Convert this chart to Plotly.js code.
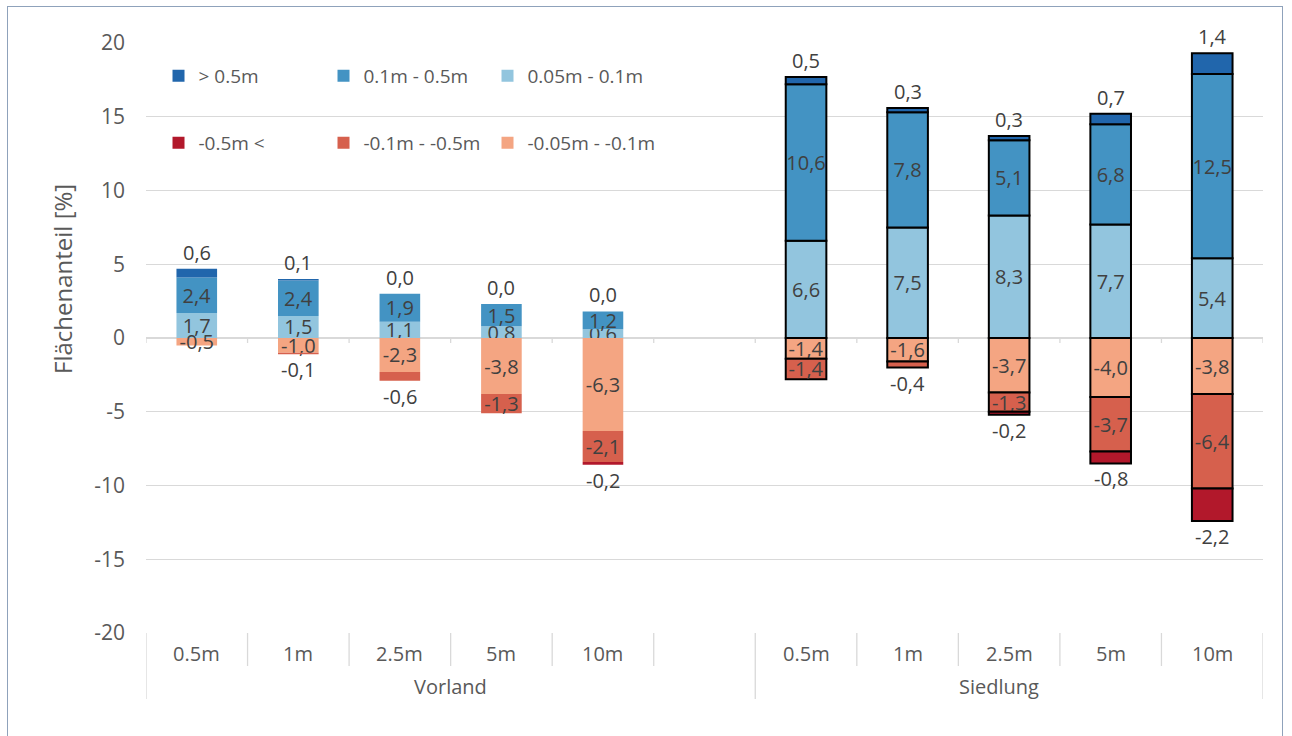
<!DOCTYPE html>
<html>
<head>
<meta charset="utf-8">
<script src="https://cdn.plot.ly/plotly-3.0.1.min.js"></script>
<style>
  html, body { margin: 0; padding: 0; background: #fff; }
  #wrap { position: relative; width: 1292px; height: 736px; overflow: hidden; }
  #chart { width: 1292px; height: 736px; }
  #frame { position: absolute; left: 7px; top: 6px; width: 1274px; height: 740px;
           border: 1.5px solid #8fa2bb; pointer-events: none; }
</style>
</head>
<body>
<div id="wrap"><div id="chart"></div><div id="frame"></div></div>
<script>
// ---- data ----
const groups      = ['Vorland','Vorland','Vorland','Vorland','Vorland','Vorland',
                     'Siedlung','Siedlung','Siedlung','Siedlung','Siedlung'];
const categories  = ['0.5m','1m','2.5m','5m','10m','','0.5m','1m','2.5m','5m','10m'];
const seriesNames = ['> 0.5m','0.1m - 0.5m','0.05m - 0.1m','-0.5m <','-0.1m - -0.5m','-0.05m - -0.1m'];
const yTickVals   = [20, 15, 10, 5, 0, -5, -10, -15, -20];

const gt05    = [0.6, 0.1, 0.0, 0.0, 0.0, null,  0.5, 0.3, 0.3, 0.7, 1.4];
const p01_05  = [2.4, 2.4, 1.9, 1.5, 1.2, null, 10.6, 7.8, 5.1, 6.8, 12.5];
const p005_01 = [1.7, 1.5, 1.1, 0.8, 0.6, null,  6.6, 7.5, 8.3, 7.7, 5.4];
const lt05    = [0.0, 0.0, 0.0, 0.0, -0.2, null, 0.0, 0.0, -0.2, -0.8, -2.2];
const n01_05  = [0.0, -0.1, -0.6, -1.3, -2.1, null, -1.4, -0.4, -1.3, -3.7, -6.4];
const n005_01 = [-0.5, -1.0, -2.3, -3.8, -6.3, null, -1.4, -1.6, -3.7, -4.0, -3.8];

const colors = ['#2166ac','#4393c3','#92c5de','#b2182b','#d6604d','#f4a582'];

// ---- helpers ----
const keys = categories.map((c, i) => groups[i] + ' ' + (c || '-') + ' ' + i);
const fmt = v => v.toFixed(1).replace('.', ',');
const yv = arr => arr.map(v => (v === null || v === 0) ? null : v);
const lineW = groups.map(g => g === 'Siedlung' ? 2 : 0);
const FONT = 'Open Sans, Noto Sans, sans-serif';
const LABEL = '#404040';
const TICK = '#595959';

// mid-red label goes below the bar when the outermost segment is empty and the value is small
const midBelow = n01_05.map((v, i) => v !== null && v !== 0 && (lt05[i] === 0) && Math.abs(v) < 1);

function bar(arr, name, color, legend, textArr) {
  return {
    type: 'bar', x: keys, y: yv(arr), name: name, legend: legend,
    marker: { color: color, line: { color: '#000000', width: lineW } },
    width: 0.4,
    text: textArr, textposition: 'inside', insidetextanchor: 'middle',
    textangle: 0, constraintext: 'none',
    textfont: { family: FONT, size: 20, color: LABEL },
    hoverinfo: 'skip'
  };
}
const txt = arr => arr.map(v => (v === null || v === 0) ? '' : fmt(v));

const traces = [
  bar(p005_01, seriesNames[2], colors[2], 'legend3', txt(p005_01)),
  bar(p01_05,  seriesNames[1], colors[1], 'legend2', txt(p01_05)),
  bar(gt05,    seriesNames[0], colors[0], 'legend',  gt05.map(() => '')),
  bar(n005_01, seriesNames[5], colors[5], 'legend6', txt(n005_01)),
  bar(n01_05,  seriesNames[4], colors[4], 'legend5', n01_05.map((v, i) => midBelow[i] ? '' : ((v === null || v === 0) ? '' : fmt(v)))),
  bar(lt05,    seriesNames[3], colors[3], 'legend4', lt05.map(() => ''))
];

// ---- annotations ----
const ann = [];
keys.forEach((k, i) => {
  if (gt05[i] === null) return;
  const top = p005_01[i] + p01_05[i] + gt05[i];
  ann.push({ x: k, y: top, xref: 'x', yref: 'y', text: fmt(gt05[i]), showarrow: false,
             yanchor: 'bottom', yshift: 1, font: { family: FONT, size: 20, color: LABEL } });
  const bottom = n005_01[i] + n01_05[i] + lt05[i];
  let lbl = null;
  if (lt05[i] !== 0) lbl = lt05[i];
  else if (midBelow[i]) lbl = n01_05[i];
  if (lbl !== null) {
    ann.push({ x: k, y: bottom, xref: 'x', yref: 'y', text: fmt(lbl), showarrow: false,
               yanchor: 'top', yshift: 0, font: { family: FONT, size: 20, color: LABEL } });
  }
});
keys.forEach((k, i) => {
  if (categories[i]) {
    ann.push({ x: k, y: 0, xref: 'x', yref: 'paper', text: categories[i], showarrow: false,
               yanchor: 'middle', yshift: -20, font: { family: FONT, size: 20, color: TICK } });
  }
});
// group labels centred on their span
['Vorland','Siedlung'].forEach(g => {
  const idx = groups.map((gg, i) => gg === g ? i : -1).filter(i => i >= 0);
  const mid = (idx[0] + idx[idx.length - 1]) / 2;
  ann.push({ x: mid, y: 0, xref: 'x', yref: 'paper', text: g, showarrow: false,
             yanchor: 'middle', yshift: -53, xshift: g === 'Siedlung' ? -10 : 0,
             font: { family: FONT, size: 20, color: TICK } });
});
// y-axis title
ann.push({ x: -84 / 1117, y: (633 - 279) / 590, xref: 'paper', yref: 'paper', text: 'Flächenanteil [%]',
           textangle: -90, showarrow: false, xanchor: 'center', yanchor: 'middle',
           font: { family: FONT, size: 24, color: TICK } });

// ---- shapes: axis separators and zero-line ticks ----
const shapes = [];
for (let b = 0; b <= keys.length; b++) {
  const isGroupEdge = b === 0 || b === keys.length || groups[b] !== groups[b - 1];
  shapes.push({ type: 'line', xref: 'x', yref: 'paper', x0: b - 0.5, x1: b - 0.5,
                y0: 0, y1: isGroupEdge ? -66 / 590 : -33 / 590,
                line: { color: '#d9d9d9', width: 1.3 }, layer: 'below' });
  shapes.push({ type: 'line', xref: 'x', yref: 'y', ysizemode: 'pixel', yanchor: 0,
                x0: b - 0.5, x1: b - 0.5, y0: 0, y1: -5,
                line: { color: '#d9d9d9', width: 1.3 }, layer: 'below' });
}

// one legend box per entry: 3 columns x 2 rows
const legX = [0.0112, 0.0112 + 165 / 1117, 0.0112 + 329 / 1117];
const legY = [(633 - 76) / 590, (633 - 143) / 590];
const mkLeg = (col, row) => ({ orientation: 'h', x: legX[col], y: legY[row], xanchor: 'left', yanchor: 'middle',
                               bgcolor: 'rgba(0,0,0,0)', font: { family: FONT, size: 19, color: TICK } });

const layout = {
  width: 1292, height: 736,
  margin: { l: 146, r: 29, t: 43, b: 103 },
  paper_bgcolor: '#ffffff', plot_bgcolor: '#ffffff',
  barmode: 'relative',
  font: { family: FONT, size: 20, color: TICK },
  xaxis: { type: 'category', categoryorder: 'array', categoryarray: keys,
           showticklabels: false, showgrid: false, zeroline: false, showline: false,
           range: [-0.5, keys.length - 0.5], fixedrange: true },
  yaxis: { range: [-20, 20], tickmode: 'array', tickvals: yTickVals, ticktext: yTickVals.map(String),
           showgrid: true, gridcolor: '#d9d9d9', gridwidth: 1.3,
           zeroline: true, zerolinecolor: '#d9d9d9', zerolinewidth: 1.5,
           showline: false, ticks: '', ticklabelstandoff: 20,
           tickfont: { family: FONT, size: 21, color: TICK }, fixedrange: true },
  legend:  mkLeg(0, 0),
  legend2: mkLeg(1, 0),
  legend3: mkLeg(2, 0),
  legend4: mkLeg(0, 1),
  legend5: mkLeg(1, 1),
  legend6: mkLeg(2, 1),
  showlegend: true,
  annotations: ann,
  shapes: shapes
};

Plotly.newPlot('chart', traces, layout, { displayModeBar: false, staticPlot: true });
</script>
</body>
</html>
